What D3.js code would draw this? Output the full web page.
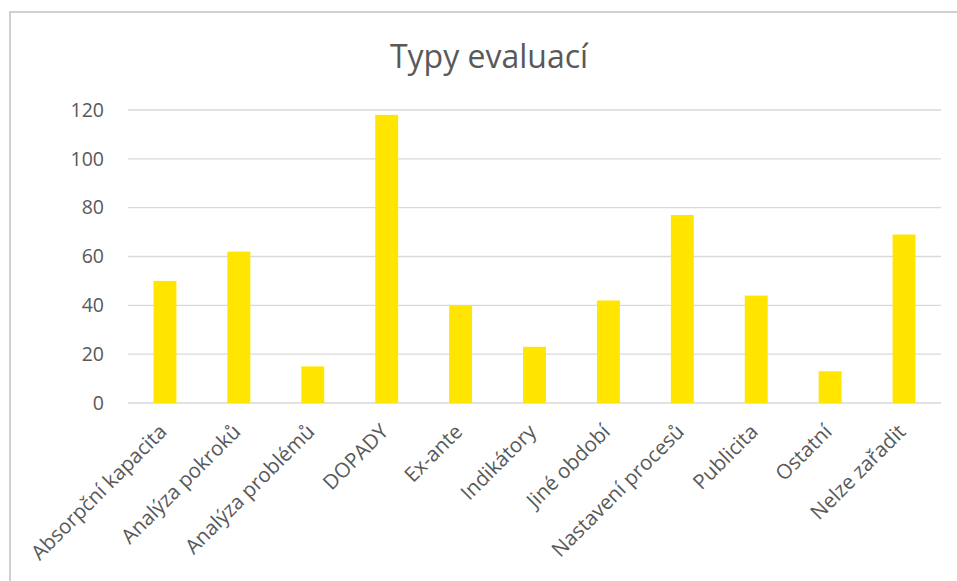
<!DOCTYPE html>
<html>
<head>
<meta charset="utf-8">
<script src="https://cdn.jsdelivr.net/npm/d3@7"></script>
<style>
  html, body { margin: 0; padding: 0; background: #fff; }
  svg { display: block; }
  text { font-family: "Open Sans", "Noto Sans", sans-serif; fill: #595959; }
</style>
</head>
<body>
<svg id="chart" width="957" height="581"></svg>
<script>
const categories = ["Absorpční kapacita", "Analýza pokroků", "Analýza problémů", "DOPADY", "Ex-ante", "Indikátory", "Jiné období", "Nastavení procesů", "Publicita", "Ostatní", "Nelze zařadit"];
const values = [50, 62, 15, 118, 40, 23, 42, 77, 44, 13, 69];
const yTicks = [0, 20, 40, 60, 80, 100, 120];
const title = "Typy evaluací";

const svg = d3.select("#chart");
const W = 957, H = 581;
const margin = { left: 128, right: 16, top: 110, bottom: 178 };

// outer chart border
svg.append("rect")
  .attr("x", 10).attr("y", 12)
  .attr("width", W + 20).attr("height", H + 20)
  .attr("fill", "#fff")
  .attr("stroke", "#d0d0d0").attr("stroke-width", 2);

const x = d3.scaleBand()
  .domain(categories)
  .range([margin.left, W - margin.right])
  .paddingInner(0.69)
  .paddingOuter(0.345);

const y = d3.scaleLinear()
  .domain([0, 120])
  .range([H - margin.bottom, margin.top]);

// gridlines
svg.append("g")
  .selectAll("line")
  .data(yTicks)
  .join("line")
  .attr("x1", margin.left).attr("x2", W - margin.right)
  .attr("y1", d => y(d)).attr("y2", d => y(d))
  .attr("stroke", "#d9d9d9").attr("stroke-width", 1.3);

// y axis labels
const yAxis = d3.axisLeft(y).tickValues(yTicks).tickSize(0).tickPadding(0);
const gy = svg.append("g")
  .attr("transform", `translate(${margin.left - 24},0)`)
  .call(yAxis);
gy.select(".domain").remove();
gy.selectAll("text")
  .style("font-size", "19.5px")
  .attr("fill", "#595959")
  .attr("font-family", "'Open Sans', sans-serif");

// bars
svg.append("g")
  .selectAll("rect")
  .data(values)
  .join("rect")
  .attr("x", (d, i) => x(categories[i]))
  .attr("width", x.bandwidth())
  .attr("y", d => y(d))
  .attr("height", d => y(0) - y(d))
  .attr("fill", "#FFE500");

// x axis labels
const xAxis = d3.axisBottom(x).tickSize(0).tickPadding(0);
const gx = svg.append("g")
  .attr("transform", `translate(0,${y(0)})`)
  .call(xAxis);
gx.select(".domain").remove();
gx.selectAll("text")
  .style("font-size", "20.5px")
  .attr("fill", "#595959")
  .attr("font-family", "'Open Sans', sans-serif")
  .attr("text-anchor", "end")
  .attr("dy", null)
  .attr("y", null)
  .attr("transform", "translate(3,30) rotate(-45)");

// title
svg.append("text")
  .attr("x", 489).attr("y", 68)
  .attr("text-anchor", "middle")
  .style("font-size", "32px")
  .text(title);
</script>
</body>
</html>
